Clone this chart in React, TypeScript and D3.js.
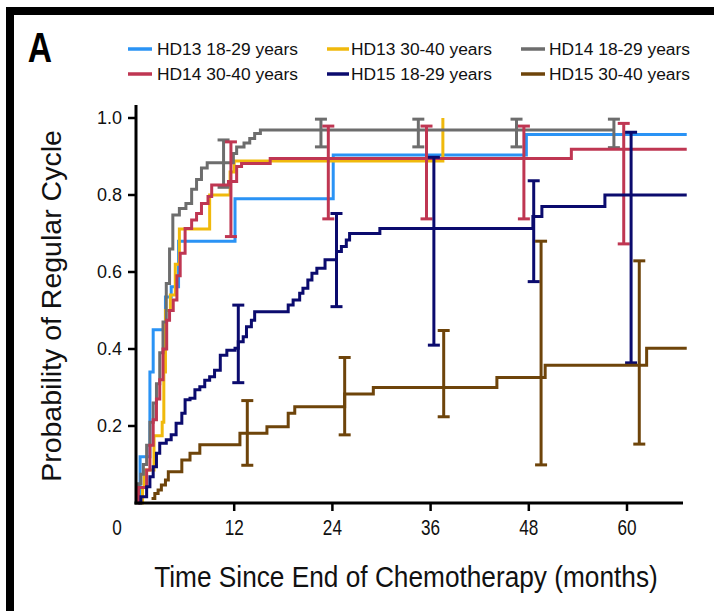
import React from "react";
import * as d3 from "d3";

// ---------- data ----------
const seriesNames = [
  "HD13 18-29 years",
  "HD13 30-40 years",
  "HD14 18-29 years",
  "HD14 30-40 years",
  "HD15 18-29 years",
  "HD15 30-40 years",
];
const seriesColors = ["#2a93f5", "#f0b90c", "#6d6d6d", "#bf3652", "#0b0b6e", "#6e440a"];

// step-curve event times (months) and cumulative probabilities
const hd13yT = [0.2, 0.5, 1.7, 2.1, 3.6, 4.3, 5.2, 12.1, 24.1, 47.7];
const hd13yP = [0, 0.12, 0.34, 0.45, 0.535, 0.562, 0.68, 0.79, 0.904, 0.957];
const hd13yEnd = 67.3;

const hd13oT = [0.2, 0.8, 1.0, 2.2, 3.2, 3.4, 3.6, 4.2, 4.8, 5.3, 9.0, 11.5, 12.0, 37.5];
const hd13oP = [0, 0.04, 0.086, 0.175, 0.21, 0.34, 0.5, 0.54, 0.62, 0.712, 0.8, 0.86, 0.888, 1.0];
const hd13oEnd = 37.5;

const hd14yT = [0.2, 0.3, 0.6, 0.9, 1.3, 1.7, 2.1, 2.5, 2.9, 3.3, 3.7, 4.1, 4.5, 5.3, 6.1, 6.8, 7.4, 8.0, 8.7, 11.9, 12.3, 13.2, 13.9, 14.5, 15.2];
const hd14yP = [0, 0.05, 0.075, 0.1, 0.15, 0.21, 0.26, 0.31, 0.39, 0.47, 0.57, 0.66, 0.748, 0.765, 0.778, 0.815, 0.84, 0.87, 0.884, 0.908, 0.925, 0.935, 0.947, 0.96, 0.969];
const hd14yEnd = 58.4;

const hd14oT = [0.2, 0.3, 1.3, 1.7, 2.1, 2.5, 2.9, 3.3, 3.75, 4.1, 4.55, 5.0, 5.4, 6.0, 6.8, 7.4, 8.0, 8.8, 9.25, 11.3, 12.3, 12.9, 16.4, 53.2];
const hd14oP = [0, 0.04, 0.086, 0.15, 0.216, 0.27, 0.32, 0.4, 0.475, 0.5, 0.527, 0.59, 0.649, 0.713, 0.735, 0.752, 0.778, 0.796, 0.826, 0.835, 0.874, 0.882, 0.895, 0.919];
const hd14oEnd = 67.3;

const hd15yT = [0.3, 0.6, 1.3, 1.7, 2.1, 2.5, 2.9, 3.7, 4.3, 4.9, 5.6, 6.0, 6.6, 7.2, 7.8, 8.4, 9.0, 9.6, 10.3, 11.1, 12.1, 12.5, 13.1, 13.5, 14.1, 14.5, 18.6, 19.2, 20.0, 20.4, 21.0, 21.5, 22.1, 23.1, 24.5, 25.1, 25.7, 26.1, 29.8, 48.5, 49.6, 57.3];
const hd15yP = [0, 0.016, 0.042, 0.068, 0.094, 0.129, 0.155, 0.164, 0.177, 0.207, 0.233, 0.268, 0.272, 0.294, 0.302, 0.319, 0.328, 0.345, 0.384, 0.397, 0.402, 0.419, 0.432, 0.458, 0.475, 0.497, 0.514, 0.527, 0.545, 0.558, 0.579, 0.597, 0.61, 0.632, 0.653, 0.666, 0.683, 0.7, 0.713, 0.744, 0.77, 0.8];
const hd15yEnd = 67.3;

const hd15oT = [1.9, 2.3, 2.7, 3.1, 3.6, 3.95, 5.6, 6.6, 7.8, 12.7, 16.0, 18.6, 19.4, 25.5, 29.0, 44.1, 50.0, 62.4];
const hd15oP = [0.012, 0.025, 0.034, 0.047, 0.06, 0.081, 0.112, 0.129, 0.151, 0.181, 0.198, 0.233, 0.25, 0.283, 0.3, 0.326, 0.358, 0.402];
const hd15oEnd = 67.3;

// 95% CI error bars (time, lower, upper)
const hd14yCiT = [10.7, 22.6, 34.5, 46.5, 58.4];
const hd14yCiLo = [0.82, 0.925, 0.925, 0.925, 0.923];
const hd14yCiHi = [0.943, 0.997, 0.997, 0.997, 0.997];

const hd14oCiT = [11.6, 23.5, 35.5, 47.4, 59.6];
const hd14oCiLo = [0.692, 0.738, 0.738, 0.738, 0.673];
const hd14oCiHi = [0.938, 0.979, 0.979, 0.979, 0.986];

const hd15yCiT = [12.5, 24.5, 36.4, 48.6, 60.5];
const hd15yCiLo = [0.3125, 0.51, 0.41, 0.575, 0.364];
const hd15yCiHi = [0.514, 0.752, 0.898, 0.837, 0.963];

const hd15oCiT = [13.6, 25.5, 37.6, 49.5, 61.5];
const hd15oCiLo = [0.098, 0.177, 0.224, 0.099, 0.153];
const hd15oCiHi = [0.266, 0.378, 0.448, 0.68, 0.629];

const xTicks = [12, 24, 36, 48, 60];
const yTicks = [0.2, 0.4, 0.6, 0.8, 1.0];

// ---------- chart ----------
const W = 714;
const H = 611;

type Curve = { t: number[]; p: number[]; end: number; ci?: { t: number[]; lo: number[]; hi: number[] } };

const curves: Curve[] = [
  { t: hd13yT, p: hd13yP, end: hd13yEnd },
  { t: hd13oT, p: hd13oP, end: hd13oEnd },
  { t: hd14yT, p: hd14yP, end: hd14yEnd, ci: { t: hd14yCiT, lo: hd14yCiLo, hi: hd14yCiHi } },
  { t: hd14oT, p: hd14oP, end: hd14oEnd, ci: { t: hd14oCiT, lo: hd14oCiLo, hi: hd14oCiHi } },
  { t: hd15yT, p: hd15yP, end: hd15yEnd, ci: { t: hd15yCiT, lo: hd15yCiLo, hi: hd15yCiHi } },
  { t: hd15oT, p: hd15oP, end: hd15oEnd, ci: { t: hd15oCiT, lo: hd15oCiLo, hi: hd15oCiHi } },
];

export default function App() {
  const x = d3.scaleLinear().domain([0, 60]).range([136, 627]);
  const y = d3.scaleLinear().domain([0, 1]).range([503, 118]);

  const line = d3
    .line<[number, number]>()
    .x((d) => x(d[0]))
    .y((d) => y(d[1]))
    .curve(d3.curveStepAfter);

  const sans = "'Liberation Sans', Arial, Helvetica, sans-serif";

  const legendCols = [
    { sx: 128, ex: 152, tx: 157 },
    { sx: 327, ex: 349, tx: 351 },
    { sx: 521, ex: 545, tx: 549 },
  ];
  const legendRows = [49, 74];

  return (
    <svg
      width={W}
      height={H}
      viewBox={`0 0 ${W} ${H}`}
      style={{ position: "absolute", left: 0, top: 0, background: "#fff" }}
    >
      <rect x={0} y={0} width={W} height={H} fill="#fff" />
      {/* frame */}
      <rect x={6} y={7} width={W - 6} height={8} fill="#000" />
      <rect x={6} y={7} width={8} height={H - 7} fill="#000" />

      {/* panel letter */}
      <text transform="translate(40,62) scale(0.8,1)" textAnchor="middle" fontFamily={sans} fontWeight="bold" fontSize={42}>
        A
      </text>

      {/* legend */}
      {seriesNames.map((name, i) => {
        const col = legendCols[i % 3];
        const row = legendRows[Math.floor(i / 3)];
        return (
          <g key={name}>
            <line x1={col.sx} x2={col.ex} y1={row} y2={row} stroke={seriesColors[i]} strokeWidth={3.5} />
            <text x={col.tx} y={row + 5.5} fontFamily={sans} fontSize={16} textLength={141} lengthAdjust="spacingAndGlyphs" fill="#111">
              {name}
            </text>
          </g>
        );
      })}

      {/* curves */}
      {curves.map((c, i) => {
        const pts: [number, number][] = c.t.map((t, k) => [t, c.p[k]] as [number, number]);
        const last = pts[pts.length - 1];
        if (c.end > last[0]) pts.push([c.end, last[1]]);
        return (
          <g key={i}>
            <path d={line(pts) || ""} fill="none" stroke={seriesColors[i]} strokeWidth={3} />
            {c.ci &&
              c.ci.t.map((t, k) => {
                const cx = x(t);
                const y1 = y(c.ci!.hi[k]);
                const y2 = y(c.ci!.lo[k]);
                return (
                  <g key={k} stroke={seriesColors[i]} strokeWidth={3}>
                    <line x1={cx} x2={cx} y1={y1} y2={y2} />
                    <line x1={cx - 6} x2={cx + 6} y1={y1} y2={y1} />
                    <line x1={cx - 6} x2={cx + 6} y1={y2} y2={y2} />
                  </g>
                );
              })}
          </g>
        );
      })}

      {/* axes */}
      <line x1={136} x2={136} y1={105} y2={504.5} stroke="#000" strokeWidth={3} />
      <line x1={134.5} x2={683} y1={503} y2={503} stroke="#000" strokeWidth={3} />
      {yTicks.map((v) => (
        <g key={v}>
          <line x1={128} x2={136} y1={y(v)} y2={y(v)} stroke="#000" strokeWidth={2.5} />
          <text x={122} y={y(v)} dy="0.36em" textAnchor="end" fontFamily={sans} fontSize={18} fill="#111">
            {v.toFixed(1)}
          </text>
        </g>
      ))}
      {xTicks.map((v) => (
        <g key={v}>
          <line x1={x(v)} x2={x(v)} y1={503} y2={511} stroke="#000" strokeWidth={2.5} />
          <text transform={`translate(${x(v)},535) scale(0.78,1)`} textAnchor="middle" fontFamily={sans} fontSize={22} fill="#111">
            {v}
          </text>
        </g>
      ))}
      <text transform="translate(117,535) scale(0.78,1)" textAnchor="middle" fontFamily={sans} fontSize={22} fill="#111">
        0
      </text>

      {/* axis titles */}
      <text transform="translate(406,587) scale(0.875,1)" textAnchor="middle" fontFamily={sans} fontSize={30} fill="#111">
        Time Since End of Chemotherapy (months)
      </text>
      <text transform="translate(61,306) rotate(-90)" textAnchor="middle" fontFamily={sans} fontSize={28.5} fill="#111">
        Probability of Regular Cycle
      </text>
    </svg>
  );
}
